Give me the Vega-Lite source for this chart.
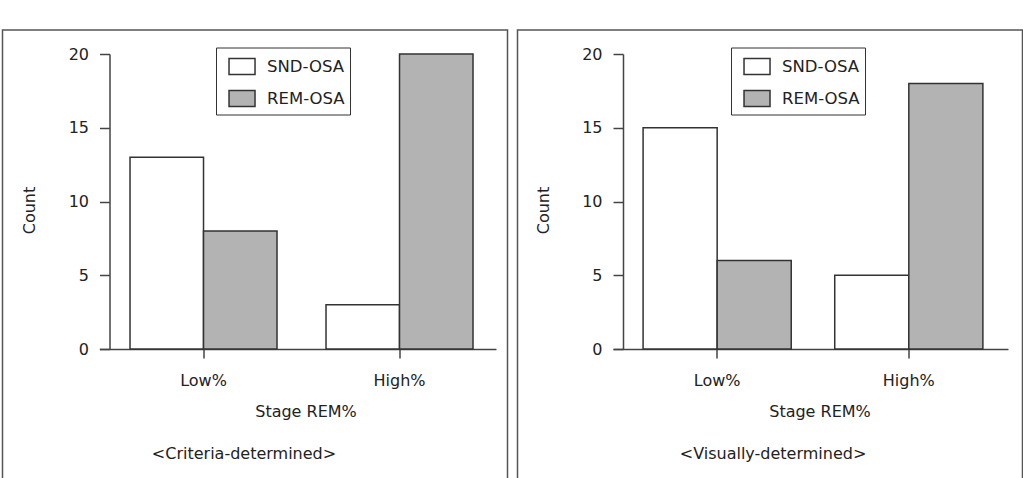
{
  "$schema": "https://vega.github.io/schema/vega-lite/v6.json",
  "padding": {"left": 1.5, "top": 29, "right": 0, "bottom": 0},
  "autosize": {"type": "pad"},
  "config": {
    "font": "DejaVu Sans",
    "view": {"stroke": "#555", "strokeWidth": 1.5},
    "axis": {
      "grid": false,
      "labelFont": "DejaVu Sans",
      "labelFontSize": 16,
      "labelColor": "#222",
      "titleFont": "DejaVu Sans",
      "titleFontSize": 16,
      "titleFontWeight": "normal",
      "titleColor": "#222",
      "domainColor": "#444",
      "domainWidth": 1.5,
      "tickColor": "#444",
      "tickWidth": 1.5
    },
    "legend": {
      "orient": "none",
      "legendX": 213.5,
      "legendY": 17.5,
      "padding": 5,
      "strokeColor": "#333",
      "symbolType": "M-0.46,-0.615H1.54V0.615H-0.46Z",
      "symbolSize": 676,
      "symbolStrokeColor": "#333",
      "symbolStrokeWidth": 1.5,
      "symbolOpacity": 1,
      "labelFont": "DejaVu Sans",
      "labelFontSize": 16.5,
      "labelColor": "#222",
      "labelOffset": 18,
      "rowPadding": 7
    },
    "title": {"font": "DejaVu Sans", "fontSize": 16, "fontWeight": "normal", "color": "#222"}
  },
  "datasets": {
    "counts": [
      {"method": "Criteria", "stage": "Low%", "group": "SND-OSA", "count": 13},
      {"method": "Criteria", "stage": "Low%", "group": "REM-OSA", "count": 8},
      {"method": "Criteria", "stage": "High%", "group": "SND-OSA", "count": 3},
      {"method": "Criteria", "stage": "High%", "group": "REM-OSA", "count": 20},
      {"method": "Visually", "stage": "Low%", "group": "SND-OSA", "count": 15},
      {"method": "Visually", "stage": "Low%", "group": "REM-OSA", "count": 6},
      {"method": "Visually", "stage": "High%", "group": "SND-OSA", "count": 5},
      {"method": "Visually", "stage": "High%", "group": "REM-OSA", "count": 18}
    ]
  },
  "spacing": 8,
  "hconcat": [
    {
      "width": 505,
      "height": 452,
      "data": {"name": "counts"},
      "transform": [{"filter": "datum.method == 'Criteria'"}],
      "title": {"text": "<Criteria-determined>", "orient": "bottom", "frame": "group", "anchor": "middle", "offset": -23, "baseline": "alphabetic", "dx": -11},
      "mark": {"type": "bar", "stroke": "#333", "strokeWidth": 1.5},
      "encoding": {
        "x": {
          "field": "stage", "type": "nominal", "sort": ["Low%", "High%"],
          "scale": {"range": [96.8, 493.5], "paddingInner": 0.25, "paddingOuter": 0.137, "align": 0.572},
          "axis": {"title": "Stage REM%", "offset": -133, "labelAngle": 0, "tickSize": 9, "labelPadding": 27, "labelBaseline": "alphabetic", "titleBaseline": "alphabetic", "titleX": 303, "titleY": 67}
        },
        "xOffset": {"field": "group", "type": "nominal", "sort": ["SND-OSA", "REM-OSA"], "scale": {"paddingInner": 0, "paddingOuter": 0}},
        "y": {
          "field": "count", "type": "quantitative",
          "scale": {"domain": [0, 20], "range": [319, 24], "nice": false, "zero": true},
          "axis": {"title": "Count", "values": [0, 5, 10, 15, 20], "offset": -107, "tickSize": 10, "labelPadding": 11, "titleBaseline": "alphabetic", "titleX": -75, "titleY": 180}
        },
        "y2": {"datum": 0},
        "fill": {
          "field": "group", "type": "nominal",
          "scale": {"domain": ["SND-OSA", "REM-OSA"], "range": ["#ffffff", "#b3b3b3"]},
          "legend": {"title": null}
        }
      }
    },
    {
      "width": 505,
      "height": 452,
      "data": {"name": "counts"},
      "transform": [{"filter": "datum.method == 'Visually'"}],
      "title": {"text": "<Visually-determined>", "orient": "bottom", "frame": "group", "anchor": "middle", "offset": -23, "baseline": "alphabetic", "dx": 3},
      "mark": {"type": "bar", "stroke": "#333", "strokeWidth": 1.5},
      "encoding": {
        "x": {
          "field": "stage", "type": "nominal", "sort": ["Low%", "High%"],
          "scale": {"range": [95.5, 490.5], "paddingInner": 0.227, "paddingOuter": 0.144, "align": 0.545},
          "axis": {"title": "Stage REM%", "offset": -133, "labelAngle": 0, "tickSize": 9, "labelPadding": 27, "labelBaseline": "alphabetic", "titleBaseline": "alphabetic", "titleX": 302, "titleY": 67}
        },
        "xOffset": {"field": "group", "type": "nominal", "sort": ["SND-OSA", "REM-OSA"], "scale": {"paddingInner": 0, "paddingOuter": 0}},
        "y": {
          "field": "count", "type": "quantitative",
          "scale": {"domain": [0, 20], "range": [319, 24], "nice": false, "zero": true},
          "axis": {"title": "Count", "values": [0, 5, 10, 15, 20], "offset": -105.5, "tickSize": 10, "labelPadding": 11, "titleBaseline": "alphabetic", "titleX": -75, "titleY": 180}
        },
        "y2": {"datum": 0},
        "fill": {
          "field": "group", "type": "nominal",
          "scale": {"domain": ["SND-OSA", "REM-OSA"], "range": ["#ffffff", "#b3b3b3"]},
          "legend": {"title": null}
        }
      }
    }
  ],
  "resolve": {
    "scale": {"x": "independent", "xOffset": "independent", "y": "independent", "fill": "independent"},
    "legend": {"fill": "independent"}
  }
}
